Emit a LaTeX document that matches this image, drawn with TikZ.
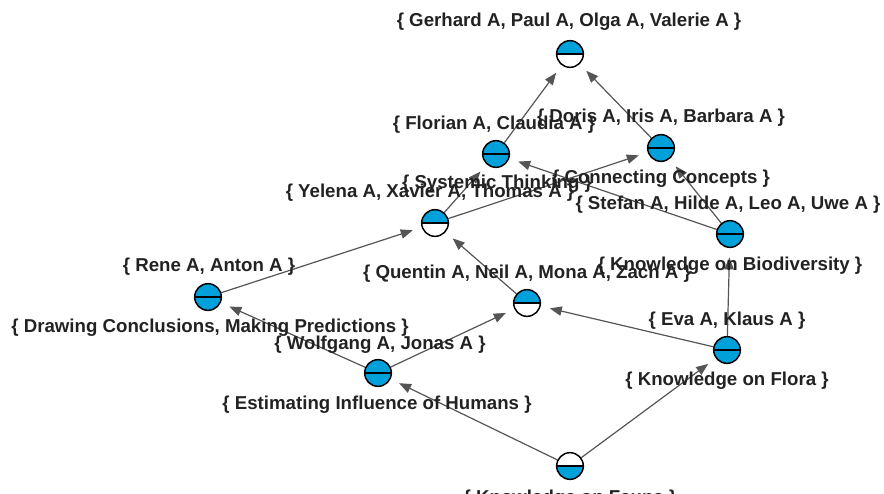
\documentclass[tikz,border=0pt]{standalone}
\usepackage{fontspec}
\setmainfont{Liberation Sans}
\usetikzlibrary{arrows.meta,backgrounds}
\definecolor{cblue}{RGB}{0,160,218}
\definecolor{edgegray}{RGB}{85,85,85}
\definecolor{txtgray}{RGB}{34,34,34}
\begin{document}
\begin{tikzpicture}[x=0.75pt,y=-0.75pt,
 cnode/.style={circle, draw=black, line width=1.1pt, minimum size=20pt, inner sep=0pt},
 fullc/.style={cnode, fill=cblue, path picture={\draw[line width=1.6pt] (path picture bounding box.west) -- (path picture bounding box.east);}},
 topc/.style={cnode, fill=white, path picture={\fill[cblue] (path picture bounding box.west) rectangle (path picture bounding box.north east); \draw[line width=1.6pt] (path picture bounding box.west) -- (path picture bounding box.east);}},
 botc/.style={cnode, fill=white, path picture={\fill[cblue] (path picture bounding box.south west) rectangle (path picture bounding box.east); \draw[line width=1.6pt] (path picture bounding box.west) -- (path picture bounding box.east);}},
 lbl/.style={font=\bfseries\fontsize{14}{16}\selectfont, text=txtgray, inner sep=0pt, yshift=-1.5pt},
 conn/.style={draw=edgegray, line width=0.9pt, -{Triangle[length=9pt,width=7pt]}, shorten >=7pt}
]
\useasboundingbox (0,0) rectangle (884,493);
% concept nodes
\node[topc]  (nTop) at (570,54) {};
\node[fullc] (nFlo) at (496,154) {};
\node[fullc] (nDor) at (661,148) {};
\node[topc]  (nYel) at (435,223) {};
\node[fullc] (nSte) at (730,234) {};
\node[fullc] (nRen) at (208,297) {};
\node[topc]  (nQue) at (527,303) {};
\node[fullc] (nWol) at (378,373) {};
\node[fullc] (nEva) at (727,350) {};
\node[botc]  (nBot) at (570,466) {};
% connectors
\begin{pgfonlayer}{background}
\draw[conn] (nFlo) -- (nTop);
\draw[conn] (nDor) -- (nTop);
\draw[conn] (nYel) -- (nFlo);
\draw[conn] (nYel) -- (nDor);
\draw[conn] (nSte) -- (nFlo);
\draw[conn] (nSte) -- (nDor);
\draw[conn] (nRen) -- (nYel);
\draw[conn] (nQue) -- (nYel);
\draw[conn] (nWol) -- (nRen);
\draw[conn] (nWol) -- (nQue);
\draw[conn] (nEva) -- (nQue);
\draw[conn] (nEva) -- (nSte);
\draw[conn] (nBot) -- (nWol);
\draw[conn] (nBot) -- (nEva);
\end{pgfonlayer}
% labels
\node[lbl] (lTop) at (569,20) {\{ Gerhard A, Paul A, Olga A, Valerie A \}};
\node[lbl] (lFlo) at (494,123) {\{ Florian A, Claudia A \}};
\node[lbl] (lFloB) at (497,182) {\{ Systemic Thinking \}};
\node[lbl] (lDor) at (661,116) {\{ Doris A, Iris A, Barbara A \}};
\node[lbl] (lDorB) at (661,177) {\{ Connecting Concepts \}};
\node[lbl] (lYel) at (430,191) {\{ Yelena A, Xavier A, Thomas A \}};
\node[lbl] (lSte) at (728,203) {\{ Stefan A, Hilde A, Leo A, Uwe A \}};
\node[lbl] (lSteB) at (730,264) {\{ Knowledge on Biodiversity \}};
\node[lbl] (lRen) at (209,265) {\{ Rene A, Anton A \}};
\node[lbl] (lRenB) at (210,326) {\{ Drawing Conclusions, Making Predictions \}};
\node[lbl] (lQue) at (527,272) {\{ Quentin A, Neil A, Mona A, Zach A \}};
\node[lbl] (lWol) at (380,343) {\{ Wolfgang A, Jonas A \}};
\node[lbl] (lWolB) at (377,403) {\{ Estimating Influence of Humans \}};
\node[lbl] (lEva) at (727,319) {\{ Eva A, Klaus A \}};
\node[lbl] (lEvaB) at (727,379) {\{ Knowledge on Flora \}};
\node[lbl] (lBotB) at (570,497) {\{ Knowledge on Fauna \}};
\end{tikzpicture}
\end{document}
